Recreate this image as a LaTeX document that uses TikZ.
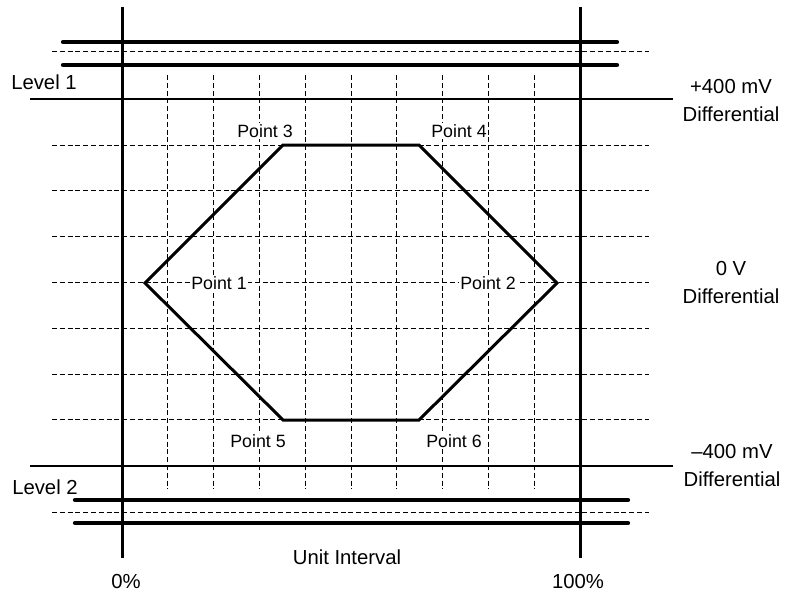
\documentclass[tikz,border=0pt]{standalone}
\usepackage{fontspec}
\setmainfont{Liberation Sans}
\begin{document}
\begin{tikzpicture}[x=1pt,y=-1pt,
 thickbar/.style={line width=4.3pt, line cap=round},
 axisline/.style={line width=3pt},
 levelline/.style={line width=2pt},
 gridline/.style={line width=1pt, dash pattern=on 5pt off 2.8pt},
 maskline/.style={line width=3pt, line join=miter},
 biglabel/.style={font=\fontsize{20.3}{28}\selectfont, align=center, inner sep=0pt},
 ptlabel/.style={font=\fontsize{17.8}{20}\selectfont, fill=white, inner sep=1pt},
]
\useasboundingbox (0,0) rectangle (787,594);
% grid
\foreach \i in {1,...,9} {
  \draw[gridline] ({122+45.8*\i},75) -- ({122+45.8*\i},489);
}
\foreach \j in {0,...,6} {
  \draw[gridline] (52,{145+45.83*\j}) -- (649,{145+45.83*\j});
}
\draw[gridline] (52,52) -- (649,52);
\draw[gridline] (52,512) -- (649,512);
% thick bars
\draw[thickbar] (63,42) -- (617,42);
\draw[thickbar] (63,65) -- (617,65);
\draw[thickbar] (75,500) -- (628,500);
\draw[thickbar] (75,523) -- (628,523);
% level lines
\coordinate (l1a) at (30,99);
\coordinate (l1b) at (673,99);
\coordinate (l2a) at (30,466);
\coordinate (l2b) at (673,466);
\draw[levelline] (l1a) -- (l1b);
\draw[levelline] (l2a) -- (l2b);
% axes
\coordinate (a0t) at (122,7);
\coordinate (a0b) at (122,558);
\coordinate (a1t) at (580,7);
\coordinate (a1b) at (580,558);
\draw[axisline] (a0t) -- (a0b);
\draw[axisline] (a1t) -- (a1b);
% hexagon
\coordinate (p1) at (145,283);
\coordinate (p2) at (557,283);
\coordinate (p3) at (283,145);
\coordinate (p4) at (419,145);
\coordinate (p5) at (283,420);
\coordinate (p6) at (419,420);
\draw[maskline] (p1) -- (p3) -- (p4) -- (p2) -- (p6) -- (p5) -- cycle;
% point labels
\node[ptlabel] (t1) at (219,283) {Point 1};
\node[ptlabel] (t2) at (488,283) {Point 2};
\node[ptlabel] (t3) at (265,131) {Point 3};
\node[ptlabel] (t4) at (459,131) {Point 4};
\node[ptlabel] (t5) at (258,441) {Point 5};
\node[ptlabel] (t6) at (454,441) {Point 6};
% other labels
\node[biglabel] (lev1) at (44,82) {Level 1};
\node[biglabel] (lev2) at (45,487) {Level 2};
\node[biglabel] (r1) at (731,101) {+400 mV\\Differential};
\node[biglabel] (r2) at (731,283) {0 V\\Differential};
\node[biglabel] (r3) at (732,466) {–400 mV\\Differential};
\node[biglabel] (ui) at (347,557) {Unit Interval};
\node[biglabel] (z) at (126,582) {0\%};
\node[biglabel] (h) at (578,582) {100\%};
\end{tikzpicture}
\end{document}
